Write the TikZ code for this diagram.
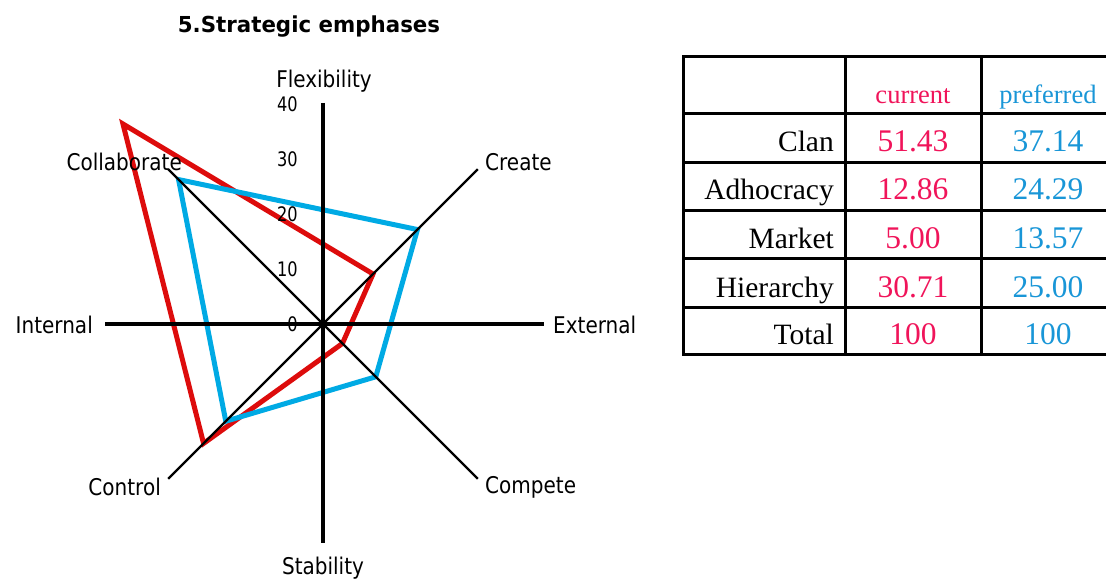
\documentclass[tikz,border=0pt]{standalone}
\usepackage{fontspec}
\newfontfamily\chartfont{DejaVu Sans}[FakeStretch=0.87]
\newfontfamily\tickfont{DejaVu Sans}[FakeStretch=0.81]
\newfontfamily\headfont{DejaVu Sans}[FakeStretch=0.97]
\newfontfamily\tablefont{Liberation Serif}
\definecolor{curline}{RGB}{221,12,12}
\definecolor{prefline}{RGB}{0,170,228}
\definecolor{curtext}{RGB}{240,20,90}
\definecolor{preftext}{RGB}{25,150,215}
\begin{document}
\begin{tikzpicture}[x=1pt,y=-1pt,
  axis/.style={line width=3.2pt},
  diag/.style={line width=2.4pt},
  series/.style={line width=5pt, line join=miter},
  lbl/.style={font=\chartfont\fontsize{23}{27}\selectfont, inner sep=0pt},
  ticklbl/.style={font=\tickfont\fontsize{20}{24}\selectfont, inner sep=0pt, anchor=east},
  titlelbl/.style={font=\headfont\bfseries\fontsize{22}{27}\selectfont, inner sep=0pt},
  rule/.style={line width=3pt},
  rowlbl/.style={font=\tablefont\fontsize{29.5}{33}\selectfont, anchor=base east, inner sep=0pt},
  curval/.style={font=\tablefont\fontsize{31.5}{35}\selectfont, text=curtext, anchor=base, inner sep=0pt},
  prefval/.style={font=\tablefont\fontsize{31.5}{35}\selectfont, text=preftext, anchor=base, inner sep=0pt},
  curhead/.style={font=\tablefont\fontsize{26.5}{30}\selectfont, text=curtext, anchor=base, inner sep=0pt},
  prefhead/.style={font=\tablefont\fontsize{26.5}{30}\selectfont, text=preftext, anchor=base, inner sep=0pt},
]
\useasboundingbox (0,0) rectangle (1106,580);

% ---------- radar chart ----------
\node[titlelbl] (title) at (309,27) {5.Strategic emphases};

\coordinate (O) at (323,324);
% axis end points
\path (O) ++(0,-221) coordinate (top)
      (O) ++(0,219)  coordinate (bottom)
      (O) ++(-218,0) coordinate (left)
      (O) ++(221,0)  coordinate (right)
      (O) ++(225:219) coordinate (dCol)
      (O) ++(315:219) coordinate (dCre)
      (O) ++(45:219)  coordinate (dCom)
      (O) ++(135:219) coordinate (dCon);

% scores (5.5 px per point along each diagonal)
\path (O) ++(225:51.43*5.5) coordinate (rCol)
      (O) ++(315:12.86*5.5) coordinate (rCre)
      (O) ++(45:5.00*5.5)   coordinate (rCom)
      (O) ++(135:30.71*5.5) coordinate (rCon);
\path (O) ++(225:37.14*5.5) coordinate (bCol)
      (O) ++(315:24.29*5.5) coordinate (bCre)
      (O) ++(45:13.57*5.5)  coordinate (bCom)
      (O) ++(135:25.00*5.5) coordinate (bCon);

\draw[series, curline]  (rCol) -- (rCre) -- (rCom) -- (rCon) -- cycle;
\draw[series, prefline] (bCol) -- (bCre) -- (bCom) -- (bCon) -- cycle;

\draw[axis] (top) -- (bottom);
\draw[axis] (left) -- (right);
\draw[diag] (dCol) -- (dCom);
\draw[diag] (dCon) -- (dCre);

% axis labels
\node[lbl] (flex) at (324,81) {Flexibility};
\node[lbl] (stab) at (323,568) {Stability};
\node[lbl, anchor=east] (intl) at (93,325) {Internal};
\node[lbl, anchor=west] (extl) at (553,325) {External};
\node[lbl, anchor=east] (colab) at (182,162) {Collaborate};
\node[lbl, anchor=west] (creat) at (485,162) {Create};
\node[lbl, anchor=east] (contr) at (161,487) {Control};
\node[lbl, anchor=west] (compt) at (485,487) {Compete};

% scale
\node[ticklbl] (t40) at (298,104) {40};
\node[ticklbl] (t30) at (298,159) {30};
\node[ticklbl] (t20) at (298,214) {20};
\node[ticklbl] (t10) at (298,269) {10};
\node[ticklbl] (t0)  at (298,324) {0};

% ---------- score table ----------
\foreach \yy in {57,114,163,211,259,307,354}
  \draw[rule] (682,\yy) -- (1120,\yy);
\foreach \xx in {683,845,981,1118}
  \draw[rule] (\xx,56) -- (\xx,355);

\node[curhead]  (hcur)  at (913,104)  {current};
\node[prefhead] (hpref) at (1048,104) {preferred};

\node[rowlbl] (lclan) at (834,152) {Clan};
\node[rowlbl] (ladho) at (834,200) {Adhocracy};
\node[rowlbl] (lmark) at (834,248) {Market};
\node[rowlbl] (lhier) at (834,297) {Hierarchy};
\node[rowlbl] (ltot)  at (834,344) {Total};

\node[curval] (cclan) at (913,152) {51.43};
\node[curval] (cadho) at (913,200) {12.86};
\node[curval] (cmark) at (913,248) {5.00};
\node[curval] (chier) at (913,297) {30.71};
\node[curval] (ctot)  at (913,344) {100};

\node[prefval] (pclan) at (1048,152) {37.14};
\node[prefval] (padho) at (1048,200) {24.29};
\node[prefval] (pmark) at (1048,248) {13.57};
\node[prefval] (phier) at (1048,297) {25.00};
\node[prefval] (ptot)  at (1048,344) {100};
\end{tikzpicture}
\end{document}
